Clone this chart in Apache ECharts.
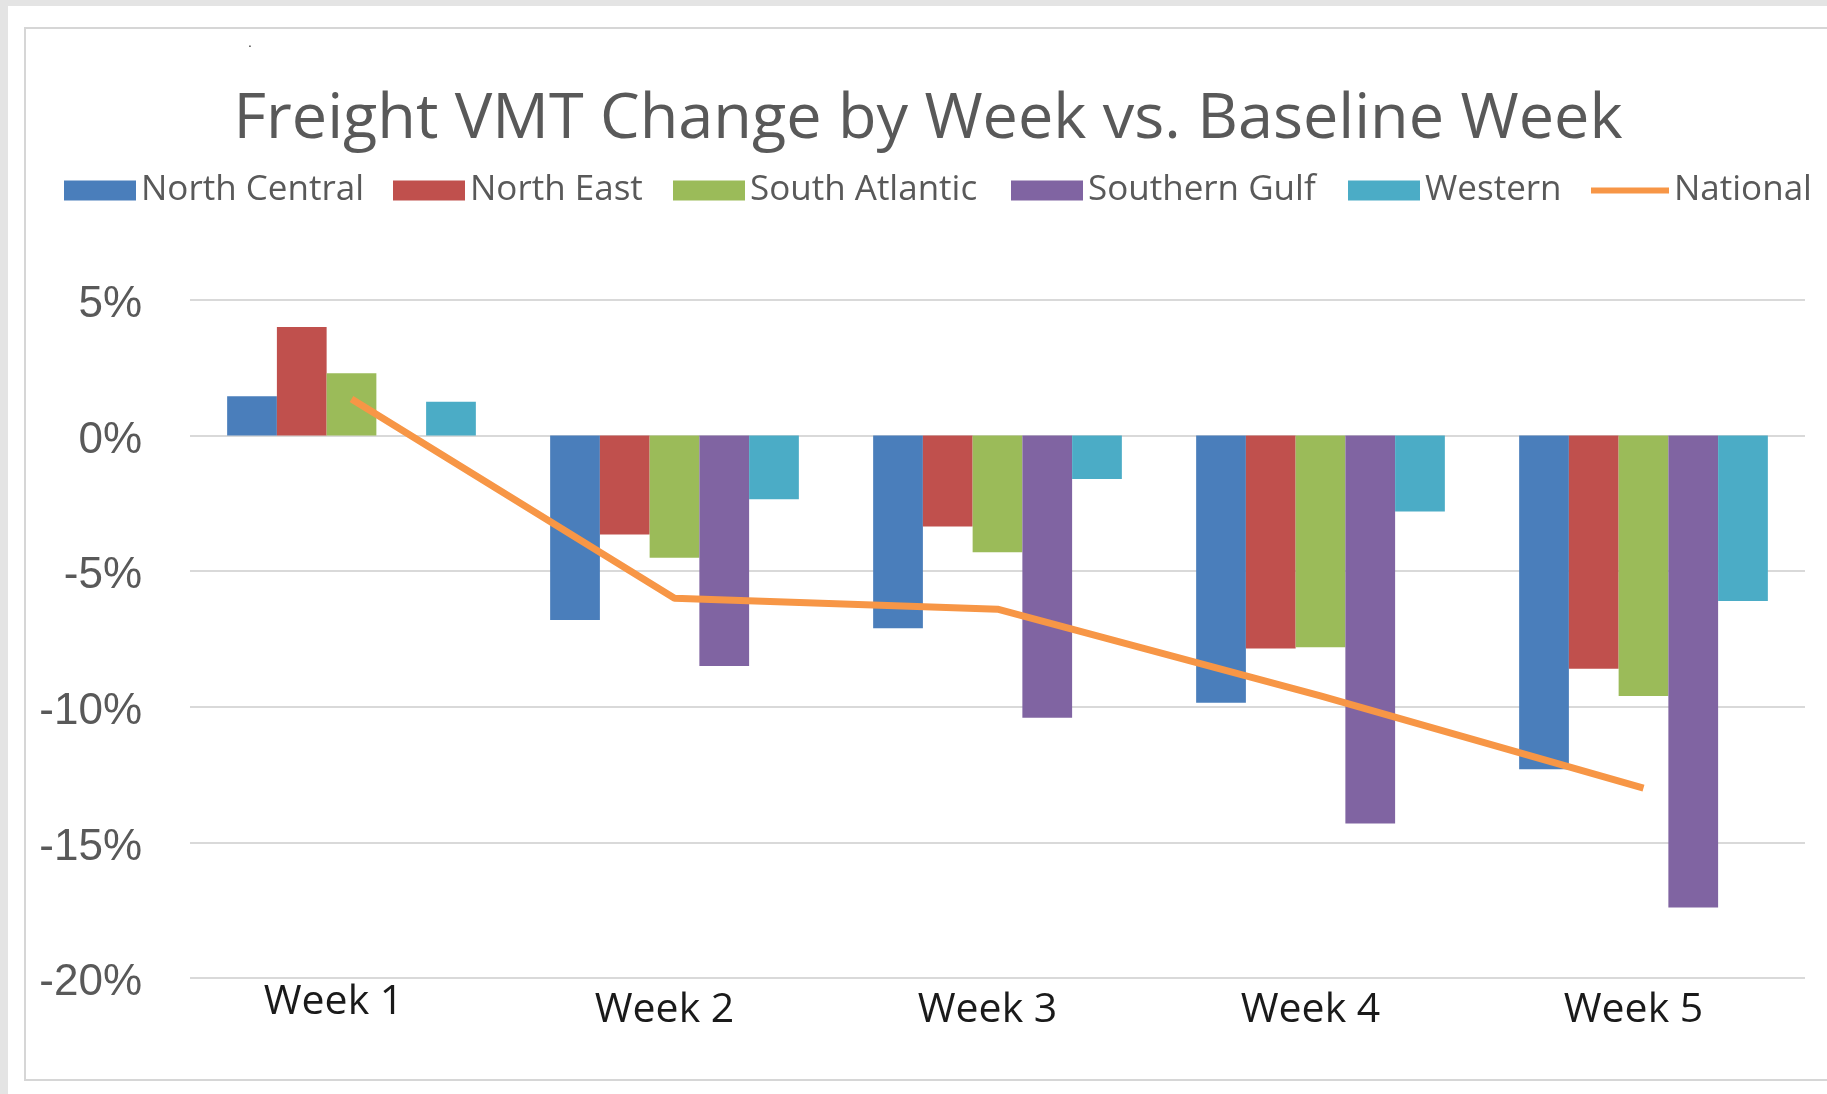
<!DOCTYPE html>
<html>
<head>
<meta charset="utf-8">
<script src="https://cdn.jsdelivr.net/npm/echarts/dist/echarts.min.js"></script>
<style>
  html, body { margin: 0; padding: 0; }
  body { width: 1827px; height: 1094px; background: #e4e4e4; position: relative; overflow: hidden; }
  #paper { position: absolute; left: 8px; top: 6px; right: 0; bottom: 0; background: #fff; }
  #frame { position: absolute; left: 24px; top: 27px; width: 1830px; height: 1050px; border: 2px solid #d6d6d6; }
  #chart { position: absolute; left: 0; top: 0; width: 1827px; height: 1094px; }
</style>
</head>
<body>
<div id="paper"></div>
<div id="frame"></div>
<div id="chart"></div>
<script>
// values, in percent
const weeks = ['Week 1', 'Week 2', 'Week 3', 'Week 4', 'Week 5'];
const northCentral = [1.45, -6.8, -7.1, -9.85, -12.3];
const northEast = [4.0, -3.65, -3.35, -7.85, -8.6];
const southAtlantic = [2.3, -4.5, -4.3, -7.8, -9.6];
const southernGulf = [0, -8.5, -10.4, -14.3, -17.4];
const western = [1.25, -2.35, -1.6, -2.8, -6.1];
const national = [1.35, -6.0, -6.4, -9.6, -13.0];
const yTicks = [-20, -15, -10, -5, 0, 5];

document.addEventListener('DOMContentLoaded', (event) => {
  const chart = echarts.init(document.getElementById('chart'));

  const barSeries = [
    { name: 'North Central', data: northCentral, color: '#4a7ebb' },
    { name: 'North East', data: northEast, color: '#c0504d' },
    { name: 'South Atlantic', data: southAtlantic, color: '#9bbb59' },
    { name: 'Southern Gulf', data: southernGulf, color: '#8064a2' },
    { name: 'Western', data: western, color: '#4bacc6' }
  ];

  // one legend per item so each sits where the original put it
  const legendLeft = [64, 393, 673, 1011, 1348];
  const legendText = { color: '#595959', fontSize: 35, fontFamily: 'Open Sans' };
  const legends = barSeries.map((s, i) => ({
    data: [s.name],
    left: legendLeft[i],
    top: 173,
    padding: 0,
    itemWidth: 72,
    itemHeight: 20,
    icon: 'rect',
    selectedMode: false,
    textStyle: legendText
  }));
  legends.push({
    data: ['National'],
    left: 1591,
    top: 173,
    padding: 0,
    itemWidth: 78,
    itemHeight: 6,
    icon: 'rect',
    selectedMode: false,
    textStyle: legendText
  });

  const series = barSeries.map(s => ({
    name: s.name,
    type: 'bar',
    data: s.data,
    itemStyle: { color: s.color },
    barGap: '0%',
    barCategoryGap: '23%'
  }));
  series.push({
    name: 'National',
    type: 'line',
    data: national,
    symbol: 'none',
    itemStyle: { color: '#f79646' },
    lineStyle: { color: '#f79646', width: 7 },
    z: 5
  });

  // first week label sits a little left and higher in the original
  const weekLabels = weeks.map((w, i) => ({
    value: w,
    textStyle: { padding: i === 0 ? [0, 36, 0, 0] : [8, 20, 0, 0] }
  }));

  const option = {
    animation: false,
    backgroundColor: 'transparent',
    title: {
      text: 'Freight VMT Change by Week vs. Baseline Week',
      left: 928,
      top: 89,
      padding: 0,
      textAlign: 'center',
      textStyle: {
        color: '#595959',
        fontSize: 63,
        fontWeight: 'normal',
        fontFamily: 'Open Sans'
      }
    },
    legend: legends,
    graphic: [{
      type: 'text',
      left: 248,
      top: 36,
      style: { text: '.', fontSize: 14, fill: '#333' }
    }],
    grid: { left: 190, right: 22, top: 300, bottom: 116 },
    xAxis: {
      type: 'category',
      data: weekLabels,
      axisLine: { show: false, onZero: false },
      axisTick: { show: false },
      axisLabel: {
        color: '#1a1a1a',
        fontSize: 41,
        fontFamily: 'Open Sans',
        margin: 4
      }
    },
    yAxis: {
      type: 'value',
      min: yTicks[0],
      max: yTicks[yTicks.length - 1],
      interval: 5,
      axisLine: { show: false },
      axisTick: { show: false },
      splitLine: { lineStyle: { color: '#d9d9d9', width: 2 } },
      axisLabel: {
        color: '#595959',
        fontSize: 44,
        fontFamily: 'Liberation Sans',
        margin: 48,
        verticalAlign: 'top',
        lineHeight: 10,
        formatter: v => v + '%'
      }
    },
    series: series
  };

  chart.setOption(option);
});
</script>
</body>
</html>
